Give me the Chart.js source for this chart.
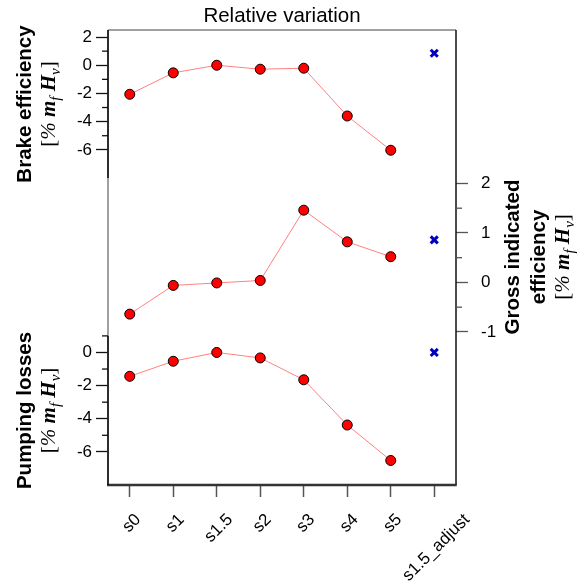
<!DOCTYPE html>
<html>
<head>
<meta charset="utf-8">
<script src="https://cdn.jsdelivr.net/npm/chart.js@4.4.0/dist/chart.umd.min.js"></script>
<style>
  html, body { margin: 0; padding: 0; background: #fff; }
</style>
</head>
<body>
<canvas id="relChart" width="585" height="586"></canvas>
<script>
// scenarios on the x axis
const categories = ['s0', 's1', 's1.5', 's2', 's3', 's4', 's5', 's1.5_adjust'];

// relative variation per scenario, % of m_f*H_v
const brakeEff = [-2.06, -0.54, 0.0, -0.28, -0.21, -3.6, -6.03];
const grossEff = [-0.64, -0.06, -0.01, 0.04, 1.46, 0.82, 0.52];
const pumpLoss = [-1.44, -0.53, 0.0, -0.33, -1.65, -4.38, -6.52];

// adjusted s1.5 case (blue cross)
const brakeAdj = 0.85;
const grossAdj = 0.86;
const pumpAdj = 0.0;

// labelled and unlabelled ticks of each panel
const brakeTicks = [2, 0, -2, -4, -6];
const brakeMinor = [1, -1, -3, -5];
const grossTicks = [2, 1, 0, -1];
const grossMinor = [1.5, 0.5, -0.5];
const pumpTicks = [0, -2, -4, -6];
const pumpMinor = [1, -1, -3, -5];

// each panel owns a slice of the plot height (fractions from the top)
const panels = {
    yB: { from: 0, to: 0.3253, lo: -8, hi: 2.5 },
    yG: { from: 0.3253, to: 0.6723, lo: -1.08, hi: 2.11 },
    yP: { from: 0.6723, to: 1, lo: -8, hi: 1 }
};

// stretch a panel range over the whole plot height
function fullRange(p) {
    const u = (p.hi - p.lo) / (p.to - p.from);
    return { min: p.lo - (1 - p.to) * u, max: p.hi + p.from * u };
}

function lineSet(values, axis) {
    return {
        data: values.concat([null]),
        yAxisID: axis,
        borderColor: '#ff8080',
        borderWidth: 1,
        pointBackgroundColor: '#ff0000',
        pointBorderColor: '#000000',
        pointBorderWidth: 1,
        pointRadius: 5,
        pointHoverRadius: 5,
        spanGaps: false
    };
}

function adjSet(value, axis) {
    return {
        data: new Array(categories.length - 1).fill(null).concat([value]),
        yAxisID: axis,
        showLine: false,
        pointStyle: 'crossRot',
        pointRadius: 5,
        pointHoverRadius: 5,
        pointBorderColor: '#0000c0',
        pointBorderWidth: 3
    };
}

const sans = "'Liberation Sans', Arial, sans-serif";
const serif = "'Liberation Serif', 'Times New Roman', serif";

function yScale(id, position, major, pad, tickColor) {
    return Object.assign({
        type: 'linear',
        position: position,
        afterBuildTicks: s => { s.ticks = major.map(v => ({ value: v })); },
        afterFit: s => { s.width = 0; },
        border: { display: false },
        grid: { drawOnChartArea: false, drawTicks: true, tickLength: 12, tickColor: tickColor, tickWidth: 1.3 },
        ticks: { color: '#000', padding: pad, font: { family: sans, size: 17 } }
    }, fullRange(panels[id]));
}

// the y axes share the margins: give each the whole margin so its labels are not clipped
const margins = {
    id: 'margins',
    afterLayout(chart) {
        const a = chart.chartArea;
        ['yB', 'yP'].forEach(id => {
            const s = chart.scales[id];
            s.left = 0; s.right = a.left; s.width = a.left;
        });
        const g = chart.scales.yG;
        g.left = a.right; g.right = chart.width; g.width = chart.width - a.right;
    }
};

// box, black axis segments and minor ticks
const frame = {
    id: 'frame',
    beforeDatasetsDraw(chart) {
        const { ctx, chartArea: a, scales } = chart;
        const seg = (x1, y1, x2, y2) => {
            ctx.beginPath(); ctx.moveTo(x1, y1); ctx.lineTo(x2, y2); ctx.stroke();
        };
        ctx.save();
        ctx.lineWidth = 1.5;
        ctx.strokeStyle = '#808080';
        seg(a.left, a.top, a.right, a.top);
        seg(a.left, a.top, a.left, a.bottom);
        ctx.strokeStyle = '#111';
        seg(a.right, a.top, a.right, a.bottom);
        ctx.lineWidth = 2.5;
        ctx.strokeStyle = '#333';
        seg(a.left - 1, a.bottom, a.right + 0.7, a.bottom);

        ctx.lineWidth = 1.6;
        ctx.strokeStyle = '#111';
        ['yB', 'yP'].forEach(id => {
            const s = scales[id];
            seg(a.left, s.getPixelForValue(panels[id].hi), a.left, s.getPixelForValue(panels[id].lo));
        });

        ctx.lineWidth = 1.3;
        brakeMinor.forEach(v => { const y = scales.yB.getPixelForValue(v); seg(a.left - 6, y, a.left, y); });
        pumpMinor.forEach(v => { const y = scales.yP.getPixelForValue(v); seg(a.left - 6, y, a.left, y); });
        ctx.strokeStyle = '#555';
        grossMinor.forEach(v => { const y = scales.yG.getPixelForValue(v); seg(a.right, y, a.right + 6, y); });
        ctx.restore();
    }
};

// [% m_f H_v] written along a rotated line
function drawUnit(ctx, cx, cy) {
    const parts = [
        { t: '[', f: '21px ' + serif, dy: 0 },
        { t: '%', f: 'italic 21px ' + serif, dy: 0 },
        { t: ' ', f: '21px ' + serif, dy: 0 },
        { t: 'm', f: 'italic bold 21px ' + serif, dy: 0 },
        { t: 'f', f: 'italic 15px ' + serif, dy: 5 },
        { t: ' ', f: '21px ' + serif, dy: 0 },
        { t: 'H', f: 'italic bold 21px ' + serif, dy: 0 },
        { t: 'v', f: 'italic 15px ' + serif, dy: 5 },
        { t: ']', f: '21px ' + serif, dy: 0 }
    ];
    let total = 0;
    parts.forEach(p => { ctx.font = p.f; p.w = ctx.measureText(p.t).width; total += p.w; });
    ctx.save();
    ctx.translate(cx, cy);
    ctx.rotate(-Math.PI / 2);
    ctx.textBaseline = 'alphabetic';
    ctx.textAlign = 'left';
    let x = -total / 2;
    parts.forEach(p => { ctx.font = p.f; ctx.fillText(p.t, x, 7 + p.dy); x += p.w; });
    ctx.restore();
}

function drawVertical(ctx, text, cx, cy) {
    ctx.save();
    ctx.translate(cx, cy);
    ctx.rotate(-Math.PI / 2);
    ctx.font = 'bold 20.5px ' + sans;
    ctx.textAlign = 'center';
    ctx.textBaseline = 'middle';
    ctx.fillText(text, 0, 0);
    ctx.restore();
}

// axis titles and slanted category labels
const labels = {
    id: 'labels',
    afterDraw(chart) {
        const { ctx, chartArea: a, scales } = chart;
        const mid = p => a.top + (a.bottom - a.top) * (p.from + p.to) / 2;
        ctx.save();
        ctx.fillStyle = '#000';

        drawVertical(ctx, 'Brake efficiency', 25, mid(panels.yB));
        drawUnit(ctx, 48, mid(panels.yB));
        drawVertical(ctx, 'Pumping losses', 25, mid(panels.yP));
        drawUnit(ctx, 48, mid(panels.yP));
        drawVertical(ctx, 'Gross indicated', 513, mid(panels.yG));
        drawVertical(ctx, 'efficiency', 539, mid(panels.yG));
        drawUnit(ctx, 562, mid(panels.yG));

        const xs = scales.x;
        ctx.font = '17px ' + sans;
        ctx.textAlign = 'center';
        ctx.textBaseline = 'middle';
        categories.forEach((c, i) => {
            const w = ctx.measureText(c).width;
            ctx.save();
            ctx.translate(xs.getPixelForTick(i) + 2, a.bottom + 32 + Math.SQRT1_2 * w / 2);
            ctx.rotate(-Math.PI / 4);
            ctx.fillText(c, 0, 0);
            ctx.restore();
        });
        ctx.restore();
    }
};

new Chart(document.getElementById('relChart').getContext('2d'), {
    type: 'line',
    data: {
        labels: categories,
        datasets: [
            lineSet(brakeEff, 'yB'),
            adjSet(brakeAdj, 'yB'),
            lineSet(grossEff, 'yG'),
            adjSet(grossAdj, 'yG'),
            lineSet(pumpLoss, 'yP'),
            adjSet(pumpAdj, 'yP')
        ]
    },
    options: {
        responsive: false,
        animation: false,
        events: [],
        layout: { padding: { left: 108, right: 129, top: 0, bottom: 0 } },
        plugins: {
            legend: { display: false },
            tooltip: { enabled: false },
            title: {
                display: true,
                text: 'Relative variation',
                color: '#000',
                font: { family: sans, size: 20.5, weight: 'normal' },
                padding: { top: 4, bottom: 1.4 }
            }
        },
        scales: {
            x: {
                type: 'category',
                offset: true,
                afterFit: s => { s.height = 101; },
                border: { display: false },
                grid: { offset: false, drawOnChartArea: false, tickLength: 12, tickColor: '#555', tickWidth: 1.5 },
                ticks: { display: false }
            },
            yB: Object.assign(yScale('yB', 'left', brakeTicks, 4, '#111'), { weight: 1 }),
            yP: Object.assign(yScale('yP', 'left', pumpTicks, 4, '#111'), { weight: 0 }),
            yG: yScale('yG', 'right', grossTicks, 13, '#555')
        }
    },
    plugins: [margins, frame, labels]
});
</script>
</body>
</html>
